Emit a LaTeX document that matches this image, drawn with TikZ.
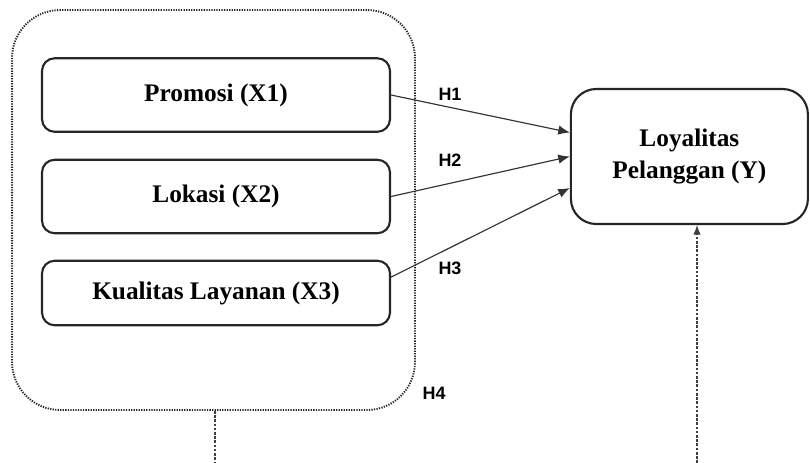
\documentclass[tikz,border=0pt]{standalone}
\usepackage{fontspec}
\setmainfont{Liberation Serif}
\newfontfamily\labelfont{Liberation Sans}
\usepackage{tikz}
\usetikzlibrary{arrows.meta}

\begin{document}
\begin{tikzpicture}
		[line cap=round,
		%Styles
		var box/.style={rounded corners=12pt,draw=black!85,line width=2pt,minimum width=11.6cm,align=center,font=\fontsize{24}{30}\selectfont\bfseries},
		dep box/.style={rounded corners=24pt,draw=black!85,line width=2pt,minimum width=7.9cm,minimum height=4.5cm,align=center,font=\fontsize{24}{30}\selectfont\bfseries},
		group box/.style={rounded corners=1.6cm,draw=black!85,line width=1.8pt,line cap=butt,dash pattern=on 1.2pt off 1.2pt,minimum width=13.43cm,minimum height=13.33cm},
		hyp line/.style={-{Latex[length=11pt,width=9pt]},draw=black!80,line width=1.1pt},
		hyp text/.style={font=\labelfont\fontsize{17}{19}\selectfont\bfseries},
		link line/.style={draw=black!75,line width=1pt,line cap=butt,dash pattern=on 2.5pt off 1.5pt}
		]
		
		\useasboundingbox (0,0) rectangle (27,-15.433);
		
		%The graphic
		
		\node[group box] (G) at (7.117, -7.0) {};
		
		\node[var box, minimum height=2.45cm] (X1) at (7.2, -3.167) {Promosi (X1)};
		\node[var box, minimum height=2.45cm] (X2) at (7.2, -6.55) {Lokasi (X2)};
		\node[var box, minimum height=2.15cm] (X3) at (7.2, -9.767) {Kualitas Layanan (X3)};
		
		\node[dep box] (Y) at (22.98, -5.217) {Loyalitas\\Pelanggan (Y)};
		
		\draw[hyp line] (X1.east) -- ([yshift=0.8cm]Y.west);
		\draw[hyp line] (X2.east) -- (Y.west);
		\draw[hyp line] ([yshift=0.53cm]X3.east) -- ([yshift=-1.05cm]Y.west);
		
		\node[hyp text] (H1) at (15.0, -3.133) {H1};
		\node[hyp text] (H2) at (15.0, -5.333) {H2};
		\node[hyp text] (H3) at (15.0, -8.933) {H3};
		\node[hyp text] (H4) at (14.467, -13.1) {H4};
		
		\coordinate (GL) at (7.167, -15.433);
		\coordinate (YL) at (23.233, -15.433);
		
		\draw[link line] (G.south -| GL) -- (GL);
		\draw[link line, -{Latex[length=9pt,width=7pt]}] (YL) -- (YL |- Y.south);
	\end{tikzpicture}
\end{document}
